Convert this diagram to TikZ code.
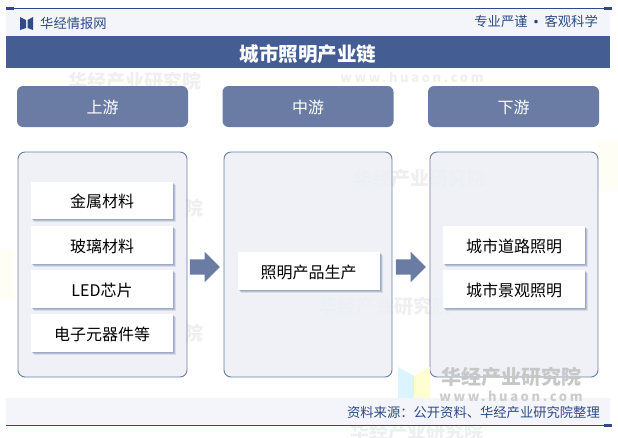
\documentclass[tikz,border=0pt]{standalone}
\usepackage{fontspec}
\setmainfont{Noto Sans CJK SC}
\usetikzlibrary{shadows,shapes.arrows}
\definecolor{barblue}{HTML}{445E94}
\definecolor{headblue}{HTML}{6A7CA3}
\definecolor{panelfill}{HTML}{ECEFF5}
\definecolor{stripfill}{HTML}{F3F5FA}
\definecolor{inkblue}{HTML}{2F4A85}
\definecolor{markgray}{HTML}{EFEFF1}
\tikzset{
  headbox/.style={fill=headblue, rounded corners=6pt, text=white, minimum width=171pt, minimum height=41pt,
    inner sep=0pt, text height=14pt, text depth=0pt, font=\fontsize{16}{16}\selectfont},
  panelbox/.style={draw=headblue, fill=panelfill, fill opacity=0.85, line width=0.9pt, rounded corners=7pt,
    minimum height=225pt},
  softshadow/.style={drop shadow={shadow xshift=3pt, shadow yshift=-3pt, fill=headblue, opacity=0.18},
    drop shadow={shadow xshift=2pt, shadow yshift=-2pt, fill=headblue, opacity=0.3},
    drop shadow={shadow xshift=1pt, shadow yshift=-1pt, fill=headblue, opacity=0.3}},
  itembox/.style={softshadow, fill=white, minimum width=142pt, minimum height=37.5pt, inner sep=0pt,
    text height=14pt, text depth=0pt, font=\fontsize{16}{16}\selectfont},
  flowarrow/.style={single arrow, fill=headblue, minimum height=30pt, inner sep=7.5pt,
    single arrow head extend=7.5pt, single arrow head indent=0pt},
  tagtext/.style={text=inkblue, inner sep=0pt, font=\fontsize{13.3}{13}\selectfont},
  markhan/.style={text=markgray, font=\bfseries\fontsize{19}{20}\selectfont},
  markweb/.style={text=markgray, font=\bfseries\fontsize{13}{14}\selectfont\addfontfeature{LetterSpace=20}}
}
\begin{document}
\begin{tikzpicture}[x=1pt,y=-1pt]
    \useasboundingbox (0,0) rectangle (618,437);

    % watermarks
    \node[markhan] (markA) at (135,81) {华经产业研究院};
    \node[markweb] (markB) at (412,77) {www.huaon.com};
    \node[markhan] (markC) at (420,178) {华经产业研究院};
    \node[markhan] (markD) at (194,208) {院};
    \node[markhan] (markE) at (385,306) {华经产业研究院};
    \node[markhan] (markH) at (194,333) {院};
    \node[markhan] (markI) at (417,431) {华经产业研究院};
    \fill[yellow!4] (0,250) rectangle (14,300);
    \fill[yellow!4] (598,140) rectangle (618,190);

    % top strip
    \fill[stripfill] (6,9) rectangle (610,36);
    \draw[inkblue, line width=0.8pt] (6,8.5) -- (610,8.5);
    \fill[inkblue] (6,7) rectangle (14,10);
    \fill[inkblue] (604,7) rectangle (612,10);
    \fill[inkblue] (20,17) -- (26,20) -- (26,28) -- (20,30) -- cycle;
    \fill[inkblue] (33,17) -- (27.5,20) -- (27.5,28) -- (33,30) -- cycle;
    \node[tagtext, anchor=west] (brand) at (40,23) {华经情报网};
    \node[tagtext, anchor=east] (motto) at (598,22) {专业严谨\raisebox{-2.5pt}{\fontsize{17}{13}\selectfont •}客观科学};

    % title
    \node[fill=barblue, minimum width=604pt, minimum height=32pt, inner sep=0pt, text=white,
      text height=18pt, text depth=0pt, font=\bfseries\fontsize{19.5}{20}\selectfont] (title) at (308,52) {城市照明产业链};

    % heads
    \node[headbox] (headA) at (102.5,106.5) {上游};
    \node[headbox] (headB) at (308,106.5) {中游};
    \node[headbox] (headC) at (513.5,106.5) {下游};

    % panels
    \node[panelbox, minimum width=169pt] (panelA) at (102.5,264.5) {};
    \node[panelbox, minimum width=168pt] (panelB) at (308,264.5) {};
    \node[panelbox, minimum width=168pt] (panelC) at (514,264.5) {};

    % lower right mark
    \fill[blue!30!cyan!14] (398,367) -- (414,376) -- (414,400) -- (398,400) -- cycle;
    \fill[yellow!18] (430,367) -- (414,376) -- (414,400) -- (430,400) -- cycle;
    \node[markhan, text=black!22, font=\bfseries\fontsize{20}{20}\selectfont] (markF) at (511,377) {华经产业研究院};

    % items
    \foreach \i/\y/\t in {1/200.5/金属材料, 2/245/玻璃材料, 3/289/LED芯片, 4/333/电子元器件等}
    {
      \node[itembox] (itemA\i) at (102,\y) {\t};
    }
    \node[itembox] (itemB1) at (308.5,271) {照明产品生产};
    \node[itembox] (itemC1) at (514,245) {城市道路照明};
    \node[itembox] (itemC2) at (514,289) {城市景观照明};

    % arrows
    \node[flowarrow] (arrowA) at (201,267) {};
    \node[flowarrow] (arrowB) at (407,267) {};

    % footer
    \fill[stripfill] (6,398) rectangle (610,425);
    \draw[inkblue, line width=0.8pt] (6,425.5) -- (610,425.5);
    \fill[inkblue] (604,424) rectangle (612,427);
    \node[markweb, text=black!20] (markG) at (511,396) {www.huaon.com};
    \node[tagtext, anchor=east] (source) at (600,412) {资料来源：公开资料、华经产业研究院整理};
  \end{tikzpicture}
\end{document}
